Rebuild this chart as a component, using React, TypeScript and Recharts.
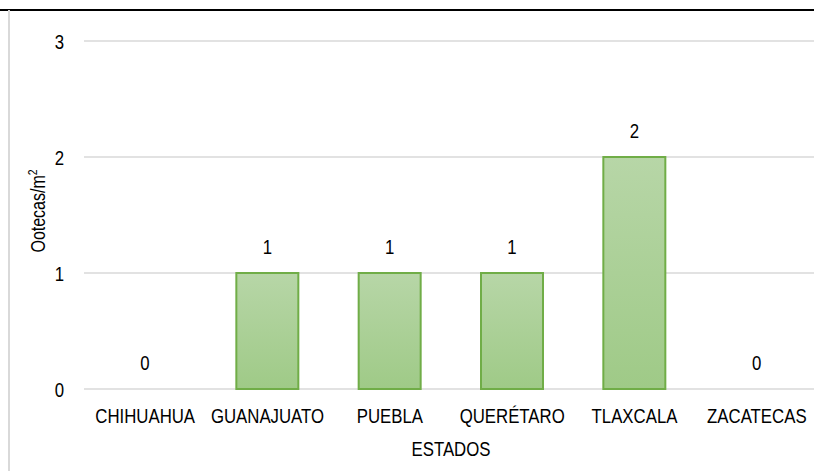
import { BarChart, Bar, XAxis, YAxis, CartesianGrid, LabelList, Rectangle } from "recharts"

const estados = ["CHIHUAHUA", "GUANAJUATO", "PUEBLA", "QUERÉTARO", "TLAXCALA", "ZACATECAS"]
const ootecas = [0, 1, 1, 1, 2, 0]
const yTicks = [0, 1, 2, 3]

const data = estados.map((estado, i) => ({ estado, valor: ootecas[i], etiqueta: String(ootecas[i]) }))

// no narrow font installed, so squeeze Liberation Sans horizontally
const font = "'Liberation Sans', Arial, sans-serif"
const fontSize = 21
const squeeze = 0.8

function Narrow({ x, y, anchor = "middle", children }: any) {
  return (
    <g transform={`translate(${x}, ${y}) scale(${squeeze}, 1)`}>
      <text x={0} y={0} textAnchor={anchor} fontFamily={font} fontSize={fontSize} fill="#000">
        {children}
      </text>
    </g>
  )
}

function XTick(props: any) {
  const { x, y, payload } = props
  return <Narrow x={x} y={y + 14.5}>{payload.value}</Narrow>
}

function YTick(props: any) {
  const { x, y, payload } = props
  return <Narrow x={x} y={y + 7.5} anchor="end">{payload.value}</Narrow>
}

function XTitle(props: any) {
  const vb = props.viewBox || { x: 0, y: 0, width: 0, height: 0 }
  return <Narrow x={vb.x + vb.width / 2} y={vb.y + vb.height - 15}>ESTADOS</Narrow>
}

function YTitle(props: any) {
  const vb = props.viewBox || { x: 0, y: 0, width: 0, height: 0 }
  const cx = vb.x + 38
  const cy = vb.y + vb.height / 2 - 4
  return (
    <g transform={`translate(${cx}, ${cy}) rotate(-90) scale(${squeeze}, 1)`}>
      <text x={0} y={7} textAnchor="middle" fontFamily={font} fontSize={20} fill="#000">
        Ootecas/m
        <tspan fontSize={13} dy={-8}>2</tspan>
      </text>
    </g>
  )
}

function ValueLabel(props: any) {
  const { x, y, width, value } = props
  return <Narrow x={Number(x) + Number(width) / 2} y={Number(y) - 19}>{value}</Narrow>
}

// zero values keep a hairline entry (minPointSize) so their label shows, but draw no box
function BarShape(props: any) {
  if (Math.abs(Number(props.height)) < 1) return <g />
  return <Rectangle {...props} />
}

export default function App() {
  return (
    <div
      style={{
        position: "absolute",
        left: 0,
        top: 0,
        width: 814,
        height: 471,
        overflow: "hidden",
        background: "#fff",
      }}
    >
      <div style={{ position: "absolute", left: 0, top: 9, width: 814, height: 1.5, background: "#000" }} />
      <div style={{ position: "absolute", left: 8, top: 10, width: 2, height: 461, background: "#d9d9d9" }} />
      <div style={{ position: "absolute", left: 0, top: 0 }}>
        <BarChart
          width={818}
          height={471}
          data={data}
          margin={{ top: 41, right: 0, bottom: 0, left: 0 }}
        >
          <defs>
            <linearGradient id="verde" x1="0" y1="0" x2="0" y2="1">
              <stop offset="0%" stopColor="#b7d6a7" />
              <stop offset="100%" stopColor="#9fca87" />
            </linearGradient>
          </defs>
          <CartesianGrid vertical={false} stroke="#d9d9d9" strokeWidth={1.5} />
          <XAxis
            dataKey="estado"
            height={82}
            axisLine={false}
            tickLine={false}
            tickSize={0}
            tickMargin={19}
            interval={0}
            tick={<XTick />}
            label={{ content: XTitle }}
          />
          <YAxis
            width={84}
            domain={[0, 3]}
            ticks={yTicks}
            axisLine={false}
            tickLine={false}
            tickSize={0}
            tickMargin={20}
            tick={<YTick />}
            label={{ content: YTitle }}
          />
          <Bar
            dataKey="valor"
            barSize={62}
            fill="url(#verde)"
            stroke="#70ad47"
            strokeWidth={2}
            minPointSize={0.01}
            shape={BarShape}
            isAnimationActive={false}
          >
            <LabelList dataKey="etiqueta" content={ValueLabel} />
          </Bar>
        </BarChart>
      </div>
    </div>
  )
}
